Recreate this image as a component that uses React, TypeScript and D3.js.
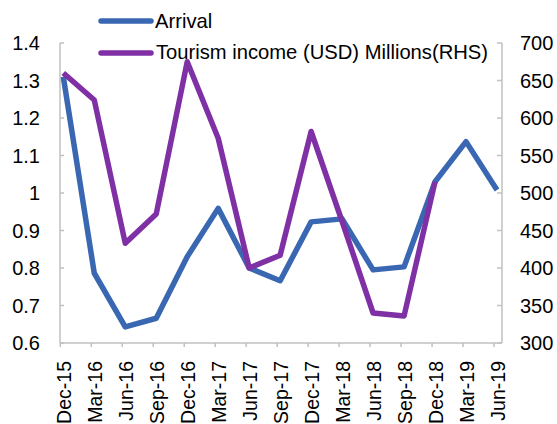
import React from 'react';
import { scalePoint, scaleLinear, line } from 'd3';

const categories = [
  'Dec-15', 'Mar-16', 'Jun-16', 'Sep-16', 'Dec-16', 'Mar-17', 'Jun-17', 'Sep-17',
  'Dec-17', 'Mar-18', 'Jun-18', 'Sep-18', 'Dec-18', 'Mar-19', 'Jun-19',
];
const arrival = [1.31, 0.786, 0.643, 0.666, 0.83, 0.959, 0.8, 0.766, 0.923, 0.931, 0.795, 0.803, 1.03, 1.137, 1.008];
const tourismIncome = [660, 624, 433, 472, 675, 573, 400, 417, 582, 462, 340, 336, 515];
const leftTicks = [0.6, 0.7, 0.8, 0.9, 1, 1.1, 1.2, 1.3, 1.4];
const rightTicks = [300, 350, 400, 450, 500, 550, 600, 650, 700];

const width = 557;
const height = 424;
const margin = { top: 43, left: 60, right: 55, bottom: 81 };
const plotRight = width - margin.right;
const plotBottom = height - margin.bottom;

const blue = '#3a67b1';
const purple = '#8030a5';
const axisColor = '#c0c0c0';
const font = 'Liberation Sans, Arial, sans-serif';

const App = () => {
  const xScale = scalePoint<string>()
    .domain(categories)
    .range([margin.left + 3.3, plotRight - 5]);

  const yLeft = scaleLinear().domain([0.6, 1.4]).range([plotBottom, margin.top]);
  const yRight = scaleLinear().domain([300, 700]).range([plotBottom, margin.top]);

  const arrivalLine = line<number>()
    .x((_, i) => xScale(categories[i]) as number)
    .y(d => yLeft(d));
  const incomeLine = line<number>()
    .x((_, i) => xScale(categories[i]) as number)
    .y(d => yRight(d));

  return (
    <svg width={width} height={height} style={{ position: 'absolute', left: 0, top: 0 }} fontFamily={font}>
      {/* axes */}
      <line x1={margin.left} x2={margin.left} y1={margin.top} y2={plotBottom} stroke={axisColor} strokeWidth={1.5} />
      <line x1={plotRight} x2={plotRight} y1={margin.top} y2={plotBottom} stroke={axisColor} strokeWidth={1.5} />
      <line x1={margin.left} x2={plotRight} y1={plotBottom} y2={plotBottom} stroke={axisColor} strokeWidth={1.5} />

      {leftTicks.map(t => (
        <g key={'l' + t} transform={`translate(0, ${yLeft(t)})`}>
          <line x1={margin.left} x2={margin.left + 4} stroke={axisColor} strokeWidth={1.5} />
          <text x={40} dy='0.35em' textAnchor='end' fontSize={20} fill='#000'>
            {t}
          </text>
        </g>
      ))}
      {rightTicks.map(t => (
        <g key={'r' + t} transform={`translate(0, ${yRight(t)})`}>
          <line x1={plotRight - 5} x2={plotRight} stroke={axisColor} strokeWidth={1.5} />
          <text x={520} dy='0.35em' textAnchor='start' fontSize={20} fill='#000'>
            {t}
          </text>
        </g>
      ))}
      {categories.map(c => {
        const x = xScale(c) as number;
        return (
          <g key={c}>
            <line x1={x - 3} x2={x - 3} y1={plotBottom} y2={plotBottom + 4} stroke={axisColor} strokeWidth={1.5} />
            <text
              transform={`translate(${x + 1}, ${plotBottom + 18}) rotate(-90)`}
              dy='0.35em'
              textAnchor='end'
              fontSize={19.5}
              fill='#000'>
              {c}
            </text>
          </g>
        );
      })}

      {/* series */}
      <path d={arrivalLine(arrival) || ''} fill='none' stroke={blue} strokeWidth={5.5} strokeLinejoin='round' />
      <path d={incomeLine(tourismIncome) || ''} fill='none' stroke={purple} strokeWidth={5.5} strokeLinejoin='round' />

      {/* legend */}
      <line x1={101} x2={151} y1={21} y2={21} stroke={blue} strokeWidth={5.5} strokeLinecap='round' />
      <text x={155} y={21} dy='0.35em' fontSize={20.2} fill='#000'>Arrival</text>
      <line x1={101} x2={151} y1={53} y2={53} stroke={purple} strokeWidth={5.5} strokeLinecap='round' />
      <text x={156} y={52} dy='0.35em' fontSize={20.2} fill='#000'>Tourism income (USD) Millions(RHS)</text>
    </svg>
  );
};

export default App;
